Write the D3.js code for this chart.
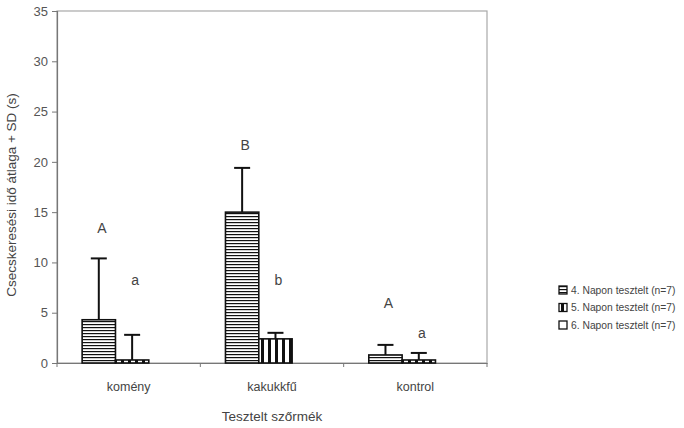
<!DOCTYPE html>
<html>
<head>
<meta charset="utf-8">
<script src="https://cdn.jsdelivr.net/npm/d3@7"></script>
<style>
  html, body { margin: 0; padding: 0; background: #fff; }
  svg { display: block; font-family: "Liberation Sans", Arial, sans-serif; }
</style>
</head>
<body>
<svg id="chart" width="684" height="428"></svg>
<script>
// Categories (tested furs) and series (test day)
const categories = ["komény", "kakukkfű", "kontrol"];
const seriesNames = ["4. Napon tesztelt (n=7)", "5. Napon tesztelt (n=7)", "6. Napon tesztelt (n=7)"];

// Mean search time per series, and SD (null = not tested)
const day4Means = [4.3, 15.0, 0.8];
const day4SD    = [6.1, 4.4, 1.0];
const day5Means = [0.3, 2.4, 0.3];
const day5SD    = [2.5, 0.6, 0.7];
const day6Means = [null, null, null];
const day6SD    = [null, null, null];

// Significance letters: category, series index, y position (s)
const letterCats   = ["komény", "komény", "kakukkfű", "kakukkfű", "kontrol", "kontrol"];
const letterSeries = [0, 1, 0, 1, 0, 1];
const letterText   = ["A", "a", "B", "b", "A", "a"];
const letterY      = [13.4, 8.2, 21.7, 8.2, 6.0, 3.0];

const yTicks = [0, 5, 10, 15, 20, 25, 30, 35];

const svg = d3.select("#chart");
const plot = { left: 57, right: 487, top: 11, bottom: 363 };

const x0 = d3.scaleBand().domain(categories).range([plot.left, plot.right]).paddingInner(0).paddingOuter(0);
const x1 = d3.scaleBand().domain(d3.range(seriesNames.length)).range([0, x0.bandwidth()])
  .paddingInner(0).paddingOuter(0.65).align(0.58);
const y = d3.scaleLinear().domain([0, 35]).range([plot.bottom, plot.top]);

// Fill patterns
const defs = svg.append("defs");
const ph = defs.append("pattern").attr("id", "hstripe").attr("patternUnits", "userSpaceOnUse")
  .attr("width", 6).attr("height", 3);
ph.append("rect").attr("width", 6).attr("height", 3).attr("fill", "#fff");
ph.append("rect").attr("y", 0).attr("width", 6).attr("height", 1.2).attr("fill", "#111");
const pv = defs.append("pattern").attr("id", "vstripe").attr("patternUnits", "userSpaceOnUse")
  .attr("width", 7).attr("height", 6);
pv.append("rect").attr("width", 7).attr("height", 6).attr("fill", "#fff");
pv.append("rect").attr("x", 2).attr("width", 3).attr("height", 6).attr("fill", "#111");
const fills = ["url(#hstripe)", "url(#vstripe)", "#fff"];

// Plot frame
svg.append("rect")
  .attr("x", plot.left).attr("y", plot.top)
  .attr("width", plot.right - plot.left).attr("height", plot.bottom - plot.top)
  .attr("fill", "none").attr("stroke", "#a8a8a8").attr("stroke-width", 1.2);

// Y axis
const yAxis = svg.append("g").attr("transform", `translate(${plot.left},0)`)
  .call(d3.axisLeft(y).tickValues(yTicks).tickSize(5).tickPadding(4));
yAxis.select(".domain").attr("stroke", "#777").attr("stroke-width", 1.2);
yAxis.selectAll(".tick line").attr("stroke", "#777");
yAxis.selectAll(".tick text").attr("fill", "#555").style("font-size", "13px")
  .style("font-family", "'Liberation Sans', Arial, sans-serif");

// X axis with ticks at category boundaries
const xAxis = svg.append("g").attr("transform", `translate(0,${plot.bottom})`)
  .call(d3.axisBottom(x0).tickSize(0).tickPadding(19));
xAxis.select(".domain").attr("stroke", "#777").attr("stroke-width", 1.2);
xAxis.selectAll(".tick text").attr("fill", "#444").style("font-size", "12.5px")
  .style("font-family", "'Liberation Sans', Arial, sans-serif");
const bounds = categories.map(c => x0(c)).concat([plot.right]);
xAxis.selectAll(".bnd").data(bounds).join("line").attr("class", "bnd")
  .attr("x1", d => d).attr("x2", d => d).attr("y1", 0).attr("y2", 4)
  .attr("stroke", "#777");

// Bars and error bars
const means = [day4Means, day5Means, day6Means];
const sds = [day4SD, day5SD, day6SD];
const rows = [];
means.forEach((arr, s) => arr.forEach((v, i) => {
  if (v !== null) rows.push({ cat: categories[i], s, v, sd: sds[s][i] });
}));

const g = svg.append("g");
rows.forEach(d => {
  const bx = x0(d.cat) + x1(d.s);
  const bw = x1.bandwidth();
  const cx = bx + bw / 2;
  g.append("line")
    .attr("x1", cx).attr("x2", cx).attr("y1", y(d.v)).attr("y2", y(d.v + d.sd))
    .attr("stroke", "#111").attr("stroke-width", 2);
  g.append("line")
    .attr("x1", cx - 8).attr("x2", cx + 8).attr("y1", y(d.v + d.sd)).attr("y2", y(d.v + d.sd))
    .attr("stroke", "#111").attr("stroke-width", 2);
  g.append("rect")
    .attr("x", bx).attr("y", y(d.v)).attr("width", bw).attr("height", y(0) - y(d.v))
    .attr("fill", fills[d.s]).attr("stroke", "#111").attr("stroke-width", 1.6);
});

// Significance letters
svg.append("g").selectAll("text").data(letterText).join("text")
  .attr("x", (t, i) => x0(letterCats[i]) + x1(letterSeries[i]) + x1.bandwidth() / 2 + 3)
  .attr("y", (t, i) => y(letterY[i]))
  .attr("dy", "0.35em").attr("text-anchor", "middle")
  .attr("fill", "#444").style("font-size", "14px")
  .text(t => t);

// Axis titles
svg.append("text")
  .attr("transform", `translate(16,${(plot.top + plot.bottom) / 2 + 8}) rotate(-90)`)
  .attr("text-anchor", "middle").attr("fill", "#444").style("font-size", "13.5px")
  .text("Csecskeresési idő átlaga + SD (s)");
svg.append("text")
  .attr("x", (plot.left + plot.right) / 2).attr("y", 421)
  .attr("text-anchor", "middle").attr("fill", "#444").style("font-size", "13.5px")
  .text("Tesztelt szőrmék");

// Legend
const legend = svg.append("g").attr("transform", "translate(559,286)");
seriesNames.forEach((name, i) => {
  const row = legend.append("g").attr("transform", `translate(0,${i * 17.5})`);
  row.append("rect").attr("x", 0).attr("y", 0).attr("width", 8).attr("height", 8)
    .attr("fill", fills[i]).attr("stroke", "#111").attr("stroke-width", 1.3);
  row.append("text").attr("x", 12).attr("y", 4).attr("dy", "0.35em")
    .attr("fill", "#444").style("font-size", "10.3px").text(name);
});
</script>
</body>
</html>
